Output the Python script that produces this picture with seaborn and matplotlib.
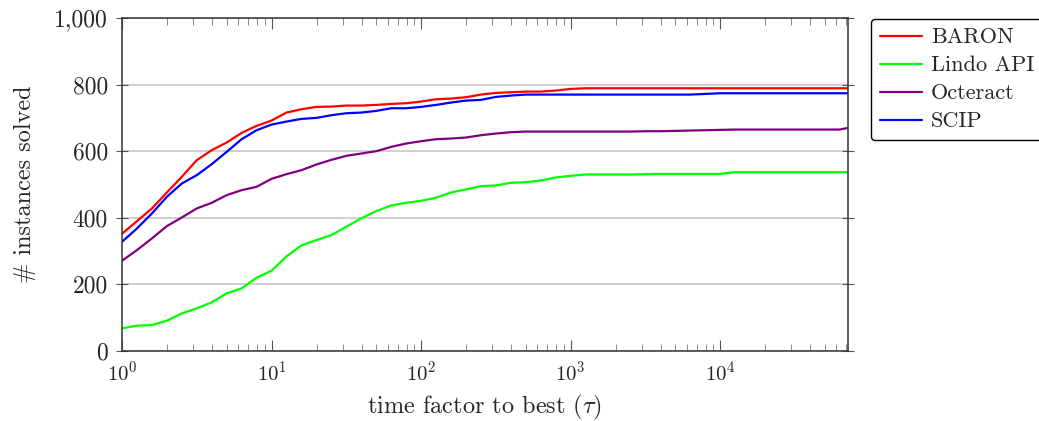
import matplotlib
matplotlib.use("Agg")
import matplotlib.pyplot as plt
import matplotlib.ticker as mticker
import numpy as np
import pandas as pd
import seaborn as sns

# sample points: tau = 10**exponent (10 per decade), last one at the right edge
LOG_TAU = [0.0, 0.1, 0.2, 0.3, 0.4, 0.5, 0.6, 0.7, 0.8, 0.9,
           1.0, 1.1, 1.2, 1.3, 1.4, 1.5, 1.6, 1.7, 1.8, 1.9,
           2.0, 2.1, 2.2, 2.3, 2.4, 2.5, 2.6, 2.7, 2.8, 2.9,
           3.0, 3.1, 3.2, 3.3, 3.4, 3.5, 3.6, 3.7, 3.8, 3.9,
           4.0, 4.1, 4.2, 4.3, 4.4, 4.5, 4.6, 4.7, 4.8, 4.856]

SOLVERS = ["BARON", "Lindo API", "Octeract", "SCIP"]
COLORS = ["#ff0000", "#00ff00", "#800080", "#0000ff"]

baron = [352, 390, 428, 476, 523, 573, 603, 626, 655, 676,
         692, 716, 726, 733, 734, 737, 737, 739, 742, 744,
         749, 756, 758, 762, 770, 775, 777, 779, 779, 782,
         787, 789, 789, 789, 789, 789, 789, 789, 789, 789,
         789, 789, 789, 789, 789, 789, 789, 789, 789, 789]

lindo = [68, 76, 78, 91, 113, 128, 146, 173, 188, 220,
         241, 284, 317, 333, 348, 373, 398, 420, 437, 445,
         451, 460, 476, 485, 495, 497, 505, 507, 512, 521,
         526, 530, 530, 530, 530, 531, 532, 532, 532, 532,
         532, 537, 537, 537, 537, 537, 537, 537, 537, 537]

octeract = [271, 303, 338, 375, 401, 428, 445, 468, 483, 493,
            517, 531, 543, 560, 574, 586, 593, 600, 613, 623,
            630, 636, 638, 641, 648, 653, 657, 659, 659, 659,
            659, 659, 659, 659, 659, 660, 660, 661, 662, 663,
            664, 665, 665, 665, 665, 665, 665, 665, 665, 670]

scip = [328, 368, 413, 463, 503, 528, 561, 598, 636, 663,
        680, 689, 697, 700, 708, 714, 716, 721, 729, 729,
        733, 739, 746, 752, 754, 763, 767, 770, 770, 770,
        770, 770, 770, 770, 770, 770, 770, 770, 770, 772,
        774, 774, 774, 774, 774, 774, 774, 774, 774, 774]

sns.set_theme(style="white")
plt.rcParams.update({
    "font.family": "cmr10",
    "mathtext.fontset": "cm",
    "axes.unicode_minus": False,
    "axes.formatter.use_mathtext": True,
    "font.size": 16,
})

tau = 10 ** np.asarray(LOG_TAU)
rows = []
for name, vals in zip(SOLVERS, [baron, lindo, octeract, scip]):
    for t, v in zip(tau, vals):
        rows.append({"tau": t, "solved": v, "solver": name})
df = pd.DataFrame(rows)

fig = plt.figure(figsize=(10.39, 4.21), dpi=100)
ax = fig.add_axes([122 / 1039, 1 - 351 / 421, (848 - 122) / 1039, (351 - 18) / 421])

sns.lineplot(data=df, x="tau", y="solved", hue="solver", hue_order=SOLVERS,
             palette=dict(zip(SOLVERS, COLORS)), linewidth=1.6, ax=ax, legend=False)

ax.set_xscale("log")
ax.set_xlim(1, 10 ** 4.856)
ax.set_ylim(0, 1000)
ax.set_yticks([0, 200, 400, 600, 800, 1000])
ax.yaxis.set_major_formatter(mticker.FuncFormatter(lambda v, p: f"{int(v):,}"))
ax.xaxis.set_major_locator(mticker.LogLocator(base=10, numticks=10))
ax.xaxis.set_minor_locator(mticker.LogLocator(base=10, subs=np.arange(2, 10), numticks=20))
ax.xaxis.set_minor_formatter(mticker.NullFormatter())

ax.grid(axis="y", color="#c4c4c4", linewidth=1.1)
ax.grid(axis="x", visible=False)
ax.set_axisbelow(True)

for s in ax.spines.values():
    s.set_visible(True)
    s.set_color("#333333")
    s.set_linewidth(1.1)

ax.tick_params(axis="x", which="major", direction="in", top=True, bottom=True,
               length=8, width=0.8, color="#555555", pad=7, labelsize=15)
ax.tick_params(axis="x", which="minor", direction="in", top=True, bottom=True,
               length=5, width=0.6, color="#777777")
ax.tick_params(axis="y", which="major", direction="inout", left=True, right=True,
               length=8, width=0.8, color="#555555", pad=6, labelsize=17)

ax.set_xlabel(r"time factor to best $(\tau)$", fontsize=17.5)
ax.xaxis.set_label_coords(0.5, -0.125)
ax.set_ylabel("# instances solved", fontsize=17.5)
ax.yaxis.set_label_coords(-0.118, 0.5)

handles = [plt.Line2D([], [], color=c, linewidth=1.6) for c in COLORS]
leg = fig.legend(handles, SOLVERS, loc="upper left",
                 bbox_to_anchor=(871 / 1039, 1 - 19 / 421),
                 frameon=True, fancybox=True, edgecolor="black",
                 handlelength=1.9, handletextpad=0.4, labelspacing=0.38,
                 borderpad=0.4, borderaxespad=0, fontsize=16)
leg.get_frame().set_linewidth(1.0)
leg.get_frame().set_alpha(1)

fig.savefig("out.png", dpi=100)
